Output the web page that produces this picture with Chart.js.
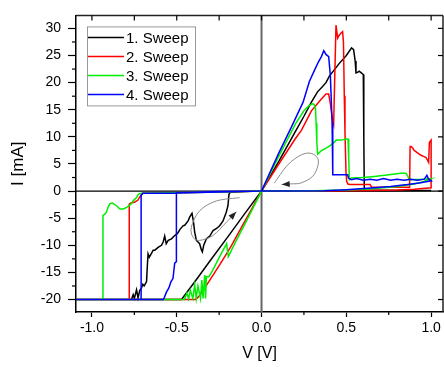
<!DOCTYPE html>
<html><head><meta charset="utf-8">
<script src="https://cdn.jsdelivr.net/npm/chart.js@4.4.1/dist/chart.umd.min.js"></script>
<style>html,body{margin:0;padding:0;background:#fff;}#wrap{width:444px;height:367px;}</style>
</head><body><div id="wrap"><canvas id="c" width="444" height="367"></canvas></div>
<script>
// ---- data ----
const seriesLabels = ['1. Sweep', '2. Sweep', '3. Sweep', '4. Sweep'];

const sweep1V = [0, 0.1, 0.2, 0.25, 0.294, 0.33, 0.36, 0.38, 0.4, 0.43, 0.46, 0.5, 0.531, 0.543, 0.552, 0.557, 0.565, 0.576, 0.588, 0.6, 0.603, 0.606, 0.7, 0.85, 1.0, 0.7, 0.4, 0,
  -0.1, -0.2, -0.3, -0.4, -0.472, -0.6, -0.8, -1.1, -0.8, -0.767, -0.757, -0.75, -0.737, -0.728, -0.718, -0.708, -0.7, -0.692, -0.678, -0.673, -0.669, -0.662, -0.649, -0.639, -0.629, -0.61, -0.59, -0.58, -0.571, -0.562, -0.55, -0.531, -0.512, -0.495, -0.482, -0.463, -0.453, -0.433, -0.424, -0.41, -0.402, -0.394, -0.384, -0.365, -0.355, -0.349, -0.341, -0.325, -0.305, -0.286, -0.265, -0.247, -0.227, -0.208, -0.198, -0.192, -0.184, -0.1, 0];
const sweep1I = [0, 5.4, 11.0, 13.8, 16.4, 18.3, 19.3, 20.0, 21.2, 22.4, 23.6, 25.0, 26.4, 26.1, 24.0, 21.8, 21.9, 22.1, 21.8, 21.5, 10, 0.2, 0.15, 0.12, 0.1, 0.05, 0.02, 0,
  -4.2, -8.5, -12.7, -17.0, -20, -20, -20, -20, -20, -20, -19.1, -19.8, -18.2, -19.7, -18.3, -17.9, -17.2, -17.5, -16.7, -13.6, -11.6, -12.2, -11.5, -10.9, -10.9, -10.4, -10.0, -9.4, -8.3, -9.7, -9.1, -8.8, -8.2, -7.8, -7.1, -6.4, -6.3, -5.5, -4.8, -4.1, -5.5, -7.6, -9.1, -9.7, -10.8, -11.2, -10.0, -8.8, -8.3, -7.3, -6.9, -6.4, -5.5, -3.9, -2.7, -0.6, -0.2, -0.1, 0];

const sweep2V = [0, 0.1, 0.2, 0.235, 0.294, 0.353, 0.38, 0.396, 0.406, 0.42, 0.425, 0.439, 0.444, 0.449, 0.455, 0.465, 0.478, 0.483, 0.488, 0.492, 0.498, 0.502, 0.51, 0.52, 0.64, 0.65, 0.873, 0.876, 0.882, 0.89, 0.9, 0.922, 0.94, 0.955, 0.97, 0.98, 0.985, 0.99, 1.0,
  1.0, 0.9, 0.8, 0.65, 0.4, 0,
  -0.06, -0.12, -0.18, -0.235, -0.3, -0.35, -0.375, -0.39, -0.6, -1.1, -0.78, -0.78, -0.77, -0.747, -0.73, -0.712, -0.7, -0.5, -0.25, 0];
const sweep2I = [0, 4.9, 9.7, 11.2, 14.8, 17.0, 17.9, 17.9, 16.1, 12.7, 12.2, 30.6, 29.4, 28.2, 28.6, 29.0, 29.4, 27.5, 17.6, 10.9, 3.5, 1.8, 1.3, 1.2, 1.2, 0.7, 0.7, 8.2, 8.2, 8.0, 7.5, 7.0, 6.6, 6.4, 6.2, 5.6, 5.3, 9.0, 9.4,
  0.6, 0.35, 0.2, 0.1, 0.03, 0,
  -3.4, -6.8, -10.2, -13.0, -16.2, -18.6, -19.6, -20, -20, -20, -20, -2.4, -2.2, -2.0, -1.7, -0.8, -0.4, -0.3, -0.15, 0];

const sweep3V = [0, 0.1, 0.2, 0.25, 0.282, 0.3, 0.31, 0.318, 0.322, 0.326, 0.331, 0.351, 0.373, 0.4, 0.422, 0.441, 0.47, 0.5, 0.51, 0.514, 0.518, 0.53, 0.6, 0.665, 0.75, 0.822, 0.851, 0.862, 0.871, 0.95, 1.0,
  0.95, 0.9, 0.8, 0.7, 0.6, 0.5, 0.3, 0,
  -0.05, -0.1, -0.15, -0.196, -0.206, -0.247, -0.286, -0.31, -0.325, -0.33, -0.335, -0.345, -0.352, -0.36, -0.375, -0.385, -0.394, -0.405, -0.42, -0.43, -0.44, -0.455, -0.7, -1.1, -0.935, -0.935, -0.925, -0.915, -0.905, -0.894, -0.88, -0.855, -0.835, -0.815, -0.795, -0.78, -0.767, -0.757, -0.737, -0.727, -0.708, -0.5, -0.25, 0];
const sweep3I = [0, 6.3, 12.4, 14.8, 15.8, 16.1, 16.0, 15.2, 12.5, 9.0, 6.8, 7.4, 7.8, 8.3, 8.8, 9.4, 9.4, 9.6, 9.6, 6.0, 2.1, 2.4, 2.5, 2.7, 3.0, 3.3, 3.3, 2.8, 2.1, 2.2, 2.3,
  1.7, 1.3, 0.85, 0.55, 0.35, 0.2, 0.05, 0,
  -3.1, -6.2, -9.2, -12.1, -9.7, -12.1, -14.5, -15.8, -15.8, -19.8, -15.5, -19.8, -16.4, -19.8, -17.5, -19.8, -17.3, -19.8, -18.3, -19.9, -18.8, -20, -20, -20, -20, -4.5, -4.3, -3.9, -3.0, -2.3, -2.2, -2.7, -3.3, -3.3, -3.0, -2.7, -2.3, -1.8, -1.2, -0.6, -0.4, -0.3, -0.15, 0];

const sweep4V = [0, 0.1, 0.176, 0.245, 0.282, 0.314, 0.335, 0.353, 0.367, 0.38, 0.396, 0.406, 0.416, 0.42, 0.508, 0.512, 0.53, 0.56, 0.6, 0.64, 0.68, 0.72, 0.76, 0.8, 0.84, 0.88, 0.92, 0.96, 0.975, 0.985, 1.0,
  0.93, 0.86, 0.76, 0.665, 0.5, 0.37, 0,
  -0.25, -0.502, -0.502, -0.512, -0.522, -0.535, -0.547, -0.56, -0.574, -0.58, -0.8, -1.1, -0.71, -0.71, -0.7, -0.5, -0.25, 0];
const sweep4I = [0, 6.9, 11.8, 16.4, 20.2, 22.4, 23.8, 24.8, 25.9, 25.2, 24.8, 21.2, 12.7, 3.0, 3.0, 2.4, 2.1, 2.3, 2.0, 2.2, 2.0, 2.3, 2.0, 2.2, 2.0, 2.2, 2.0, 2.2, 2.9, 2.2, 1.9,
  1.5, 1.2, 0.85, 0.6, 0.25, 0.05, 0,
  -0.1, -0.3, -13.0, -13.3, -16.1, -16.8, -17.9, -18.6, -19.7, -20, -20, -20, -20, -0.8, -0.4, -0.35, -0.15, 0];

// curved arrows drawn on the plot (in V / mA units)
const arrowUpperV = [0.076, 0.155, 0.234, 0.292, 0.331, 0.331, 0.302, 0.234, 0.175, 0.119];
const arrowUpperI = [1.51, 4.85, 6.67, 6.96, 6.05, 4.55, 2.73, 1.51, 1.33, 1.22];
const arrowLowerV = [-0.129, -0.266, -0.365, -0.414, -0.404, -0.365, -0.286, -0.208, -0.149];
const arrowLowerI = [-1.22, -1.82, -3.64, -6.67, -8.49, -9.09, -8.18, -5.76, -3.82];

// axes
const xTickValues = [-1.0, -0.5, 0.0, 0.5, 1.0];
const xMinorTicks = [-0.75, -0.25, 0.25, 0.75];
const yTickValues = [-20, -15, -10, -5, 0, 5, 10, 15, 20, 25, 30];
const yMinorTicks = [-17.5, -12.5, -7.5, -2.5, 2.5, 7.5, 12.5, 17.5, 22.5, 27.5];
const xLimits = [-1.094, 1.07];
const yLimits = [-22.3, 32.4];
const xTitle = 'V [V]';
const yTitle = 'I [mA]';

// ---- styles ----
const seriesColors = ['#000000', '#ff0000', '#00ee00', '#0000ff'];
const seriesOrder = [3, 2, 1, 0];
const FONT = "'Liberation Sans', Arial, sans-serif";

const allV = [sweep1V, sweep2V, sweep3V, sweep4V];
const allI = [sweep1I, sweep2I, sweep3I, sweep4I];
const datasets = seriesLabels.map((lab, k) => ({
  label: lab,
  data: allV[k].map((v, i) => ({ x: v, y: allI[k][i] })),
  showLine: true,
  borderColor: seriesColors[k],
  backgroundColor: seriesColors[k],
  borderWidth: 1.5,
  pointRadius: 0,
  tension: 0,
  fill: false,
  order: seriesOrder[k]
}));

function strokeLine(ctx, x1, y1, x2, y2) { ctx.beginPath(); ctx.moveTo(x1, y1); ctx.lineTo(x2, y2); ctx.stroke(); }

function drawArrowCurve(ctx, xs, ys, vs, is) {
  const p = vs.map((v, i) => [xs.getPixelForValue(v), ys.getPixelForValue(is[i])]);
  ctx.beginPath();
  ctx.moveTo(p[0][0], p[0][1]);
  for (let i = 0; i < p.length - 1; i++) {
    const p0 = p[i - 1] || p[i], p1 = p[i], p2 = p[i + 1], p3 = p[i + 2] || p[i + 1];
    ctx.bezierCurveTo(p1[0] + (p2[0] - p0[0]) / 6, p1[1] + (p2[1] - p0[1]) / 6,
      p2[0] - (p3[0] - p1[0]) / 6, p2[1] - (p3[1] - p1[1]) / 6, p2[0], p2[1]);
  }
  ctx.strokeStyle = '#8a8a8a'; ctx.lineWidth = 1; ctx.stroke();
  const a = p[p.length - 2], b = p[p.length - 1];
  const ang = Math.atan2(b[1] - a[1], b[0] - a[0]);
  const L = 8, W = 3;
  ctx.beginPath();
  ctx.moveTo(b[0], b[1]);
  ctx.lineTo(b[0] - L * Math.cos(ang) + W * Math.sin(ang), b[1] - L * Math.sin(ang) - W * Math.cos(ang));
  ctx.lineTo(b[0] - L * Math.cos(ang) - W * Math.sin(ang), b[1] - L * Math.sin(ang) + W * Math.cos(ang));
  ctx.closePath(); ctx.fillStyle = '#222'; ctx.fill();
}

const framePlugin = {
  id: 'frame',
  beforeDatasetsDraw(chart) {
    const { ctx, chartArea: a, scales: { x, y } } = chart;
    ctx.save();
    const x0 = x.getPixelForValue(0), y0 = y.getPixelForValue(0);
    ctx.strokeStyle = '#666'; ctx.lineWidth = 2;
    strokeLine(ctx, x0, a.top, x0, a.bottom);
    ctx.strokeStyle = '#000'; ctx.lineWidth = 1.3;
    strokeLine(ctx, a.left, y0, a.right, y0);
    ctx.restore();
  },
  afterDatasetsDraw(chart) {
    const { ctx, scales: { x, y } } = chart;
    ctx.save();
    drawArrowCurve(ctx, x, y, arrowUpperV, arrowUpperI);
    drawArrowCurve(ctx, x, y, arrowLowerV, arrowLowerI);
    ctx.restore();
  },
  afterDraw(chart) {
    const { ctx, chartArea: a, scales: { x, y } } = chart;
    ctx.save();
    ctx.strokeStyle = '#222'; ctx.lineWidth = 1.5;
    strokeLine(ctx, a.left, a.top, a.right, a.top);
    strokeLine(ctx, a.right, a.top, a.right, a.bottom);
    ctx.lineWidth = 1.2; ctx.strokeStyle = '#000';
    // minor ticks outside (bottom/left)
    xMinorTicks.forEach(v => { const px = x.getPixelForValue(v); strokeLine(ctx, px, a.bottom, px, a.bottom + 3); });
    yMinorTicks.forEach(v => { const py = y.getPixelForValue(v); strokeLine(ctx, a.left - 4, py, a.left, py); });
    // mirrored ticks inside (top/right)
    xTickValues.concat(xMinorTicks).forEach(v => { const px = x.getPixelForValue(v); strokeLine(ctx, px, a.top, px, a.top + 5); });
    yTickValues.forEach(v => { const py = y.getPixelForValue(v); strokeLine(ctx, a.right - 5, py, a.right, py); });
    // legend box
    const bx = a.left + 11, by = a.top + 11, bw = 108, bh = 79, row = 19;
    ctx.fillStyle = '#fff'; ctx.fillRect(bx, by, bw, bh);
    ctx.strokeStyle = '#999'; ctx.lineWidth = 1;
    ctx.strokeRect(bx + 0.5, by + 0.5, bw, bh);
    ctx.font = '15px ' + FONT; ctx.textBaseline = 'middle'; ctx.textAlign = 'left';
    chart.data.datasets.forEach((ds, i) => {
      const cy = by + 11 + i * row;
      ctx.strokeStyle = ds.borderColor; ctx.lineWidth = 1.5;
      strokeLine(ctx, bx + 1, cy, bx + 37, cy);
      ctx.fillStyle = '#000';
      ctx.fillText(ds.label, bx + 39, cy + 1);
    });
    ctx.restore();
  }
};

new Chart(document.getElementById('c'), {
  type: 'scatter',
  data: { datasets },
  options: {
    responsive: false,
    animation: false,
    layout: { padding: { top: 12, right: 1, left: 0, bottom: 0 } },
    plugins: { legend: { display: false }, tooltip: { enabled: false } },
    scales: {
      x: {
        type: 'linear', min: xLimits[0], max: xLimits[1],
        afterBuildTicks: s => { s.ticks = xTickValues.map(v => ({ value: v })); },
        afterFit: s => { s.height = 55; },
        ticks: { callback: v => Number(v).toFixed(1), font: { family: FONT, size: 14 }, color: '#000', padding: 3, maxRotation: 0, autoSkip: false },
        grid: { drawOnChartArea: false, drawTicks: true, tickLength: 5, color: '#000', tickWidth: 1.2 },
        border: { display: true, color: '#000', width: 1.5 },
        title: { display: true, text: xTitle, color: '#000', font: { family: FONT, size: 16 }, padding: { top: 0, bottom: 4 } }
      },
      y: {
        type: 'linear', min: yLimits[0], max: yLimits[1],
        afterBuildTicks: s => { s.ticks = yTickValues.map(v => ({ value: v })); },
        afterFit: s => { s.width = 76; },
        ticks: { callback: v => String(v), font: { family: FONT, size: 14 }, color: '#000', padding: 7, autoSkip: false },
        grid: { drawOnChartArea: false, drawTicks: true, tickLength: 8, color: '#000', tickWidth: 1.2 },
        border: { display: true, color: '#000', width: 1.5 },
        title: { display: true, text: yTitle, color: '#000', font: { family: FONT, size: 17 }, padding: { top: 8, bottom: 0 } }
      }
    }
  },
  plugins: [framePlugin]
});
</script></body></html>
